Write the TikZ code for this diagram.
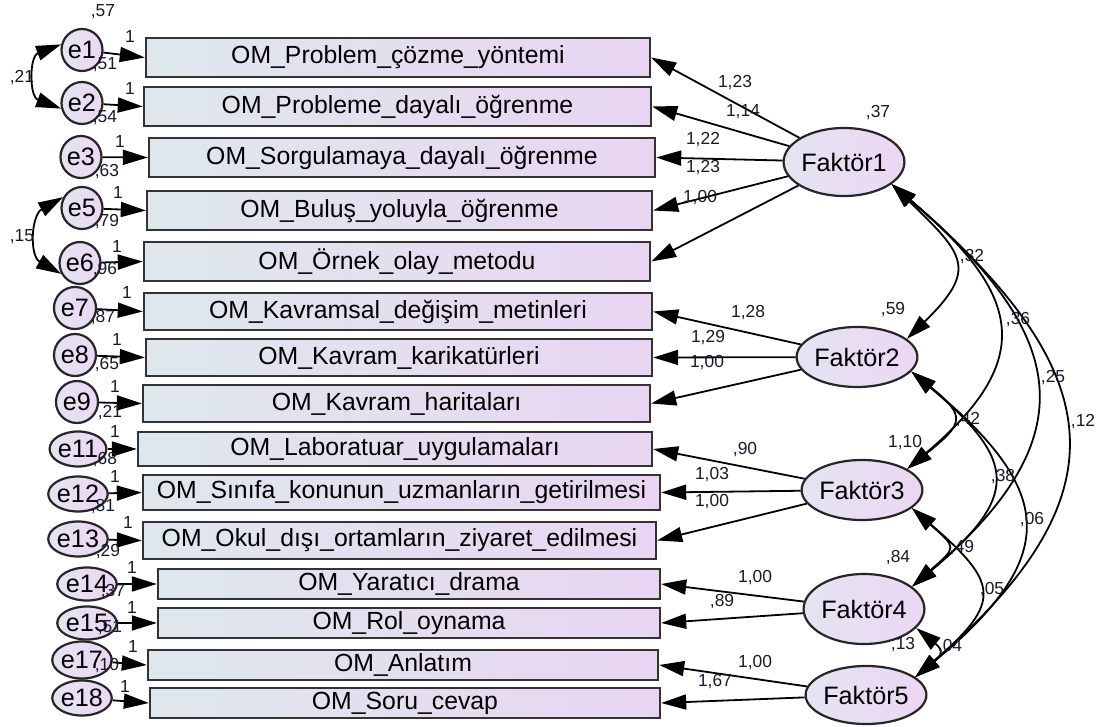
\documentclass[tikz,border=0pt]{standalone}
\usepackage{fontspec}
\setmainfont{Liberation Sans}
\usetikzlibrary{arrows.meta,shapes.geometric}

\definecolor{boxleft}{RGB}{222,232,236}
\definecolor{boxright}{RGB}{233,213,243}
\definecolor{ovalleft}{RGB}{228,228,242}
\definecolor{ovalright}{RGB}{236,214,243}
\definecolor{numcol}{RGB}{25,25,45}

\tikzset{
  obs/.style={draw=black!80, line width=1.2pt, left color=boxleft, right color=boxright,
    inner sep=0pt, font=\fontsize{12.4}{14}\selectfont},
  err/.style={draw=black!85, ellipse, line width=1.1pt, left color=ovalleft, right color=ovalright,
    inner sep=0pt, font=\fontsize{12.6}{14}\selectfont},
  lat/.style={err, minimum width=53pt, minimum height=32pt},
  load/.style={-{Triangle[length=12.5pt,width=7.5pt]}, line width=0.9pt},
  cov/.style={{Triangle[length=12.5pt,width=7.5pt]}-{Triangle[length=12.5pt,width=7.5pt]}, line width=0.9pt},
  num/.style={inner sep=0pt, text=numcol, font=\fontsize{8.7}{10}\selectfont}
}

\begin{document}
\begin{tikzpicture}[x=0.5pt,y=-0.5pt]
  \useasboundingbox (0,0) rectangle (1098,727);
  % observed variables
  \foreach \n/\cx/\cy/\w/\h/\txt in {
    1/398/57.5/504/39/OM\_Problem\_çözme\_yöntemi,
    2/397.5/106.5/507/39/OM\_Probleme\_dayalı\_öğrenme,
    3/402/157.5/506/39/OM\_Sorgulamaya\_dayalı\_öğrenme,
    5/399.5/210.5/505/39/OM\_Buluş\_yoluyla\_öğrenme,
    6/397/261.5/506/39/OM\_Örnek\_olay\_metodu,
    7/398/311.5/508/37/OM\_Kavramsal\_değişim\_metinleri,
    8/399/357.5/506/37/OM\_Kavram\_karikatürleri,
    9/396.5/403.5/507/37/OM\_Kavram\_haritaları,
    11/395/449/514/34/OM\_Laboratuar\_uygulamaları,
    12/401.5/492.5/517/35/OM\_Sınıfa\_konunun\_uzmanların\_getirilmesi,
    13/399.5/540.5/513/37/OM\_Okul\_dışı\_ortamların\_ziyaret\_edilmesi,
    14/409/584/502/30/OM\_Yaratıcı\_drama,
    15/409/623/502/30/OM\_Rol\_oynama,
    17/403/665/510/30/OM\_Anlatım,
    18/405/703/510/30/OM\_Soru\_cevap} {
    \node[obs, minimum width=\w*0.5pt, minimum height=\h*0.5pt] (r\n) at (\cx,\cy) {\txt};
  }
  % error terms
  \foreach \n/\cx/\cy/\w/\h in {1/82/50/41/42, 2/82/103/41/42, 3/81/157/41/42,
    5/82/208/41/42, 6/80/263/41/42, 7/75/308/42/42, 8/75/355/42/42, 9/77/402/42/42,
    11/78/449/43/35, 12/78/494/43/35, 13/78/539/43/35, 14/87/584/55/33,
    15/87/623/55/33, 17/82/660/57/37, 18/82/698/55/35} {
    \node[err, minimum width=\w*0.5pt, minimum height=\h*0.5pt] (e\n) at (\cx,\cy) {e\n};
    \draw[load] (e\n) -- (r\n.west);
  }
  \foreach \n/\x/\y in {1/130/37, 2/130/89, 3/120/142, 5/118/193, 6/117/247, 7/127/293,
    8/117/340, 9/115/387, 11/115/432, 12/115/477, 13/128/523, 14/132/568, 15/132/608,
    17/133/647, 18/125/687} {
    \node[num] (o\n) at (\x,\y) {1};
  }
  \foreach \n/\x/\y/\v in {1/103/12/{,57}, 2/105/65/{,51}, 3/105/118/{,54}, 5/107/172/{,63},
    6/107/222/{,79}, 7/105/270/{,96}, 8/103/318/{,87}, 9/107/365/{,65}, 11/110/413/{,21},
    12/105/460/{,68}, 13/103/507/{,81}, 14/108/552/{,29}, 15/113/592/{,37},
    17/110/628/{,51}, 18/107/666/{,10}} {
    \node[num] (v\n) at (\x,\y) {\v};
  }
  \draw[cov] (e1.165) .. controls +(-32,12) and +(-32,-12) .. (e2.195);
  \draw[cov] (e5.150) .. controls +(-32,18) and +(-32,-18) .. (e6.210);
  \node[num] (c12) at (22,78) {,21};
  \node[num] (c56) at (22,237) {,15};
  % factors
  \node[lat, minimum width=51pt, minimum height=34pt] (f1) at (844,162) {Faktör1};
  \node[lat, minimum width=54pt, minimum height=30pt] (f2) at (857,357) {Faktör2};
  \node[lat, minimum width=54pt, minimum height=30pt] (f3) at (862,490) {Faktör3};
  \node[lat, minimum width=52pt, minimum height=35pt] (f4) at (864,609) {Faktör4};
  \node[lat, minimum width=53pt, minimum height=29pt] (f5) at (866,695) {Faktör5};
  \foreach \r in {1,2,3,5,6} \draw[load] (f1) -- (r\r.east);
  \foreach \r in {7,8,9} \draw[load] (f2) -- (r\r.east);
  \foreach \r in {11,12,13} \draw[load] (f3) -- (r\r.east);
  \foreach \r in {14,15} \draw[load] (f4) -- (r\r.east);
  \foreach \r in {17,18} \draw[load] (f5) -- (r\r.east);
  \foreach \k/\x/\y/\v in {1/735/83/{1,23}, 2/743/112/{1,14}, 3/703/140/{1,22},
    5/703/168/{1,23}, 6/700/198/{1,00}, 7/748/313/{1,28}, 8/708/338/{1,29},
    9/707/363/{1,00}, 11/745/450/{,90}, 12/712/475/{1,03}, 13/712/502/{1,00},
    14/755/578/{1,00}, 15/722/602/{,89}, 17/755/663/{1,00}, 18/715/682/{1,67}} {
    \node[num] (l\k) at (\x,\y) {\v};
  }
  \foreach \k/\x/\y/\v in {1/878/113/{,37}, 2/893/310/{,59}, 3/905/443/{1,10},
    4/898/558/{,84}, 5/903/645/{,13}} {
    \node[num] (fv\k) at (\x,\y) {\v};
  }
  % covariances
  \draw[cov] (f1.-25) .. controls +(72,70) and +(72,-70) .. (f2.20);
  \draw[cov] (f1.-25) .. controls +(130,110) and +(130,-110) .. (f3.25);
  \draw[cov] (f1.-25) .. controls +(177,150) and +(177,-150) .. (f4.25);
  \draw[cov] (f1.-25) .. controls +(215,185) and +(215,-185) .. (f5.20);
  \draw[cov] (f2.-15) .. controls +(56,45) and +(56,-45) .. (f3.25);
  \draw[cov] (f2.-15) .. controls +(107,90) and +(107,-90) .. (f4.25);
  \draw[cov] (f2.-15) .. controls +(145,120) and +(145,-120) .. (f5.20);
  \draw[cov] (f3.-20) .. controls +(45,40) and +(45,-40) .. (f4.25);
  \draw[cov] (f3.-20) .. controls +(87,75) and +(87,-75) .. (f5.20);
  \draw[cov] (f4.-20) .. controls +(27,22) and +(27,-22) .. (f5.20);
  \foreach \k/\x/\y/\v in {12/972/257/{,32}, 13/1018/320/{,36}, 14/1053/378/{,25},
    15/1083/422/{,12}, 23/968/420/{,42}, 24/1003/477/{,38}, 25/1032/520/{,06},
    34/962/548/{,49}, 35/992/590/{,05}, 45/950/647/{,04}} {
    \node[num] (c\k) at (\x,\y) {\v};
  }
\end{tikzpicture}
\end{document}
